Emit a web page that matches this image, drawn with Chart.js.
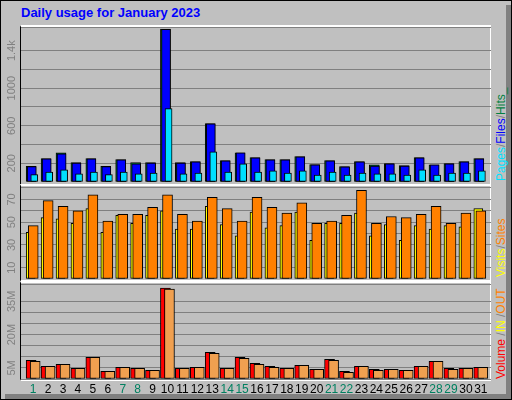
<!DOCTYPE html>
<html>
<head>
<meta charset="utf-8">
<script src="https://cdn.jsdelivr.net/npm/chart.js@4"></script>
<style>
  body { margin: 0; background: #fff; }
  #frame { position: absolute; left: 0; top: 0; width: 510px; height: 398px; border: 1px solid #000; background: #c0c0c0; overflow: hidden; font-family: "Liberation Sans", Arial, sans-serif; }
  #shadowR { position: absolute; left: 505px; top: 4px; width: 5px; height: 394px; background: #808080; }
  #shadowB { position: absolute; left: 4px; top: 393px; width: 506px; height: 5px; background: #808080; }
  #title { position: absolute; left: 20px; top: 4px; color: #0000ff; font-weight: bold; font-size: 13px; }
  .panel { position: absolute; left: 19px; width: 471px; border-top: 2px solid #fff; border-bottom: 2px solid #fff; border-left: 1px solid #000; border-right: 1px solid #fff; box-sizing: border-box; }
  canvas { position: absolute; left: 0; }
  .leg { position: absolute; transform: rotate(-90deg); transform-origin: left top; font-size: 12px; white-space: nowrap; }
</style>
</head>
<body>
<div id="frame">
  <div id="shadowR"></div><div id="shadowB"></div>
  <div id="title">Daily usage for January 2023</div>
  <div class="panel" style="top:24px;height:161px"></div>
  <div class="panel" style="top:183px;height:98px"></div>
  <div class="panel" style="top:280px;height:100px"></div>
  <canvas id="c1" style="top:26px"></canvas>
  <canvas id="c2" style="top:186px"></canvas>
  <canvas id="c3" style="top:283px"></canvas>
  <div class="leg" style="left:493px;top:180px"><span style="color:#00e0ff">Pages</span><span style="color:#808080">/</span><span style="color:#0000ff">Files</span><span style="color:#808080">/</span><span style="color:#008040">Hits_</span></div>
  <div class="leg" style="left:493px;top:276px"><span style="color:#ffff00">Visits</span><span style="color:#808080">/</span><span style="color:#ff8000">Sites</span></div>
  <div class="leg" style="left:493px;top:378px"><span style="color:#ff0000">Volume</span><span style="color:#808080"> /</span><span style="color:#ffff00">IN</span><span style="color:#808080"> /</span><span style="color:#ff8000">OUT</span></div>
</div>
<script>
const days = Array.from({length: 31}, (_, i) => i + 1);
const weekendDays = [1, 7, 8, 14, 15, 21, 22, 28, 29];

const hits  = [168,250,312,206,250,168,240,206,206,1630,206,218,624,228,312,260,240,240,270,186,228,164,218,184,196,174,260,184,196,218,250];
const files = [164,246,300,203,246,164,236,193,203,1628,203,214,621,225,310,257,236,236,268,182,225,161,214,171,193,171,257,182,193,214,246];
const pages = [79,107,129,86,107,79,107,86,96,782,86,96,321,107,193,107,118,96,118,75,107,75,96,86,86,75,129,75,96,96,118];

const sites  = [41,54,53,49,62,41,56,49,56,60,44,44,64,48,38,59,45,47,59,34,49,49,58,38,48,34,47,44,47,46,62];
const visits = [47,69,64,60,74,51,57,57,63,74,57,51,72,62,51,72,63,58,67,49,51,56,78,49,55,54,57,64,49,58,60];

const volume = [8.4,5.7,6.6,4.8,9.8,3.5,5.3,4.8,3.9,41,4.8,5.3,12,4.8,9.8,7.1,5.7,4.8,6.2,4.4,8.9,3.5,5.7,4.4,4.4,3.9,5.7,8.0,4.8,4.8,5.3];
const outVol = [8.0,5.7,6.6,4.8,9.8,3.5,5.3,4.8,3.9,40.5,4.8,5.3,11.6,4.8,9.3,6.6,5.3,4.8,6.2,4.4,8.4,3.0,5.7,3.9,4.4,3.9,5.7,8.0,4.4,4.8,5.3];

const topTicks = [200, 600, 1000, 1400];
const midTicks = [10, 30, 50, 70];
const botTicks = [5, 20, 35];

// per-canvas label settings (kept out of chart options so functions aren't treated as scriptable)
const labelSettings = {
    c1: { ticks: topTicks, fmt: t => t >= 1000 && t % 1000 ? (t / 1000).toFixed(1) + "k" : String(t), days: false },
    c2: { ticks: midTicks, fmt: t => String(t), days: false },
    c3: { ticks: botTicks, fmt: t => t + "M", days: true }
};

function series(values, shift) {
    return values.map((v, i) => ({ x: days[i] + shift, y: v }));
}

function bar(label, values, shift, width, color, order) {
    return { label, data: series(values, shift), backgroundColor: color, borderColor: "#000",
             borderWidth: 1, borderSkipped: false, barThickness: width, grouped: false, order };
}

// rotated y labels and day labels
const labelsPlugin = {
    id: "labelsPlugin",
    afterDraw(chart) {
        const s = labelSettings[chart.canvas.id];
        const ctx = chart.ctx;
        const y = chart.scales.y;
        ctx.save();
        ctx.fillStyle = "#808080";
        ctx.font = "11px 'Liberation Sans', Arial";
        ctx.textAlign = "center";
        ctx.textBaseline = "middle";
        s.ticks.forEach(t => {
            ctx.save();
            ctx.translate(11, y.getPixelForValue(t));
            ctx.rotate(-Math.PI / 2);
            ctx.fillText(s.fmt(t), 0, 0);
            ctx.restore();
        });
        if (s.days) {
            const x = chart.scales.x;
            ctx.font = "12px 'Liberation Sans', Arial";
            days.forEach(d => {
                ctx.fillStyle = weekendDays.includes(d) ? "#008060" : "#000";
                ctx.fillText(String(d), x.getPixelForValue(d) + 1, chart.chartArea.bottom + 11);
            });
        }
        ctx.restore();
    }
};

function makeChart(id, h, bottomPad, datasets, max, step) {
    const canvas = document.getElementById(id);
    canvas.width = 490; canvas.height = h + bottomPad;
    canvas.style.width = "490px";
    canvas.style.height = (h + bottomPad) + "px";
    return new Chart(canvas, {
        type: "bar",
        data: { datasets },
        options: {
            responsive: false, animation: false, devicePixelRatio: 1,
            layout: { padding: { left: 20, right: 0, top: 0, bottom: bottomPad } },
            plugins: { legend: { display: false }, tooltip: { enabled: false } },
            scales: {
                x: { type: "linear", min: 0.25, max: 31.75, offset: false, display: false },
                y: { min: 0, max, display: true,
                     ticks: { display: false, stepSize: step },
                     grid: { color: "#808080", drawTicks: false },
                     border: { display: false } }
            }
        },
        plugins: [labelsPlugin]
    });
}

makeChart("c1", 155, 0, [
    bar("Hits", hits, -0.07, 10, "#008040", 3),
    bar("Files", files, -0.03, 9, "#0000ff", 2),
    bar("Pages", pages, 0.14, 7, "#00e0ff", 1)
], 1653, 200);

makeChart("c2", 92, 0, [
    bar("Sites", sites, -0.1, 9, "#ffff00", 2),
    bar("Visits", visits, 0.07, 10, "#ff8000", 1)
], 81, 10);

makeChart("c3", 95, 20, [
    bar("Volume", volume, -0.07, 10, "#ff0000", 2),
    bar("Out", outVol, 0.2, 10, "#f0a050", 1)
], 42.8, 5);
</script>
</body>
</html>
